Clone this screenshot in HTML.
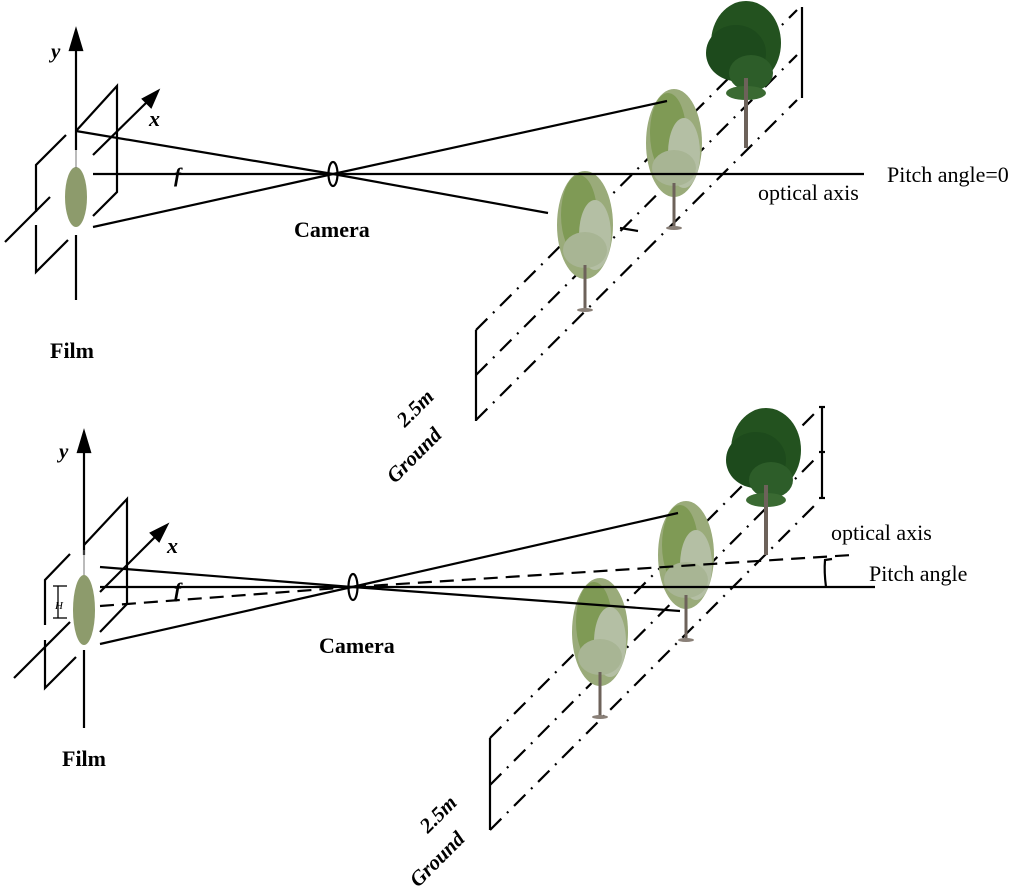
<!DOCTYPE html>
<html><head><meta charset="utf-8"><style>
html,body{margin:0;padding:0;background:#fff}
svg{display:block}
.t{font-family:"Liberation Serif",serif}
</style></head><body>
<svg width="1024" height="888" viewBox="0 0 1024 888" xmlns="http://www.w3.org/2000/svg">
<defs>
<g id="ltree">
 <ellipse cx="0" cy="-40" rx="28" ry="54" fill="#9aab7a"/>
 <ellipse cx="-6" cy="-50" rx="18" ry="40" fill="#7f9a55"/>
 <ellipse cx="10" cy="-30" rx="16" ry="35" fill="#b4bfa4"/>
 <ellipse cx="0" cy="-15" rx="22" ry="18" fill="#a8b594"/>
 <rect x="-1.5" y="0" width="3" height="45" fill="#6d625a"/>
 <ellipse cx="0" cy="45" rx="8" ry="2" fill="#8a8078"/>
</g>
<g id="dtree">
 <ellipse cx="0" cy="-55" rx="35" ry="42" fill="#23521f"/>
 <ellipse cx="-10" cy="-45" rx="30" ry="28" fill="#1d4a1c"/>
 <ellipse cx="5" cy="-25" rx="22" ry="18" fill="#2d5d29"/>
 <ellipse cx="0" cy="-5" rx="20" ry="7" fill="#3a6a32"/>
 <rect x="-2" y="-20" width="4" height="70" fill="#6d625a"/>
</g>
</defs>

<g stroke="#000" stroke-width="2.2" fill="none">
 <g stroke-dasharray="16 8 2 8">
  <line x1="476" y1="330" x2="797" y2="10"/>
  <line x1="476" y1="375" x2="797" y2="55"/>
  <line x1="476" y1="420" x2="797" y2="100"/>
 </g>
 <line x1="476" y1="330" x2="476" y2="421"/>
 <line x1="802" y1="7" x2="802" y2="98"/>
</g>
<use href="#ltree" x="585" y="265"/>
<use href="#ltree" x="674" y="183"/>
<use href="#dtree" x="746" y="98"/>
<g stroke="#000" stroke-width="2.2" fill="none">
 <polyline points="76,131 117,86 117,192 93,216"/>
 <polyline points="36,212 36,165 66,135"/>
 <polyline points="36,225 36,272 68,240"/>
 <line x1="76" y1="45" x2="76" y2="150"/>
 <line x1="76" y1="235" x2="76" y2="300"/>
 <polygon points="76,30 70,50 82,50" fill="#000"/>
 <line x1="5" y1="242" x2="50" y2="197"/>
 <line x1="93" y1="155" x2="148" y2="101"/>
 <polygon points="158,91 143,99 151,107" fill="#000"/>
 <line x1="76" y1="131" x2="333" y2="174"/>
 <line x1="93" y1="227" x2="333" y2="174"/>
 <line x1="333" y1="174" x2="667" y2="101"/>
 <line x1="333" y1="174" x2="548" y2="213"/>
 <line x1="620" y1="228" x2="638" y2="231"/>
 <line x1="93" y1="174" x2="864" y2="174"/>
 <ellipse cx="333" cy="174" rx="4.5" ry="12"/>
</g>
<ellipse cx="76" cy="197" rx="11" ry="30" fill="#8d9b6c"/>
<line x1="76" y1="150" x2="76" y2="168" stroke="#777" stroke-width="1"/>

<g class="t">
 <text x="51" y="58" font-size="21" font-style="italic" font-weight="bold">y</text>
 <text x="149" y="126" font-size="22" font-style="italic" font-weight="bold">x</text>
 <text x="174" y="182" font-size="21" font-style="italic" font-weight="bold">f</text>
 <text x="294" y="237" font-size="22" font-weight="bold">Camera</text>
 <text x="50" y="358" font-size="22" font-weight="bold">Film</text>
 <text x="758" y="200" font-size="22">optical axis</text>
 <text x="887" y="182" font-size="22">Pitch angle=0</text>
 <text x="0" y="0" font-size="21" font-weight="bold" font-style="italic" transform="translate(405,428) rotate(-45)">2.5m</text>
 <text x="0" y="0" font-size="21" font-weight="bold" font-style="italic" transform="translate(395,484) rotate(-45)">Ground</text>
</g>

<g stroke="#000" stroke-width="2.2" fill="none">
 <g stroke-dasharray="16 8 2 8">
  <line x1="490" y1="738" x2="814" y2="414"/>
  <line x1="490" y1="785" x2="814" y2="460"/>
  <line x1="490" y1="830" x2="814" y2="506"/>
 </g>
 <line x1="490" y1="738" x2="490" y2="830"/>
 <line x1="822" y1="407" x2="822" y2="498"/>
 <line x1="819" y1="407" x2="825" y2="407"/>
 <line x1="819" y1="452" x2="825" y2="452"/>
 <line x1="819" y1="498" x2="825" y2="498"/>
</g>
<use href="#ltree" x="600" y="672"/>
<use href="#ltree" x="686" y="595"/>
<use href="#dtree" x="766" y="505"/>
<g stroke="#000" stroke-width="2.2" fill="none">
 <polyline points="84,545 127,499 127,604 100,632"/>
 <polyline points="45,625 45,580 70,554"/>
 <polyline points="45,640 45,688 76,657"/>
 <line x1="84" y1="447" x2="84" y2="555"/>
 <line x1="84" y1="650" x2="84" y2="728"/>
 <polygon points="84,432 78,452 90,452" fill="#000"/>
 <line x1="14" y1="678" x2="70" y2="622"/>
 <line x1="100" y1="592" x2="156" y2="536"/>
 <polygon points="167,525 151,533 159,541" fill="#000"/>
 <line x1="100" y1="567" x2="352" y2="587"/>
 <line x1="100" y1="644" x2="352" y2="587"/>
 <line x1="352" y1="587" x2="678" y2="513"/>
 <line x1="352" y1="587" x2="680" y2="611"/>
 <line x1="100" y1="587" x2="875" y2="587"/>
 <line x1="100" y1="606" x2="352" y2="587" stroke-dasharray="14 8"/>
 <line x1="352" y1="587" x2="852" y2="555" stroke-dasharray="14 8"/>
 <path d="M826,587 Q824,572 825,560 L832,559"/>
 <ellipse cx="353" cy="587" rx="4.5" ry="13"/>
 <g stroke-width="1.3">
  <line x1="58" y1="586" x2="58" y2="618"/>
  <line x1="53" y1="586" x2="67" y2="586"/>
  <line x1="53" y1="618" x2="67" y2="618"/>
 </g>
</g>
<ellipse cx="84" cy="610" rx="11" ry="35" fill="#8d9b6c"/>
<line x1="84" y1="550" x2="84" y2="575" stroke="#777" stroke-width="1"/>
<g class="t">
 <text x="59" y="458" font-size="21" font-style="italic" font-weight="bold">y</text>
 <text x="167" y="553" font-size="22" font-style="italic" font-weight="bold">x</text>
 <text x="174" y="597" font-size="21" font-style="italic" font-weight="bold">f</text>
 <text x="55" y="609" font-size="11" font-style="italic">H</text>
 <text x="319" y="653" font-size="22" font-weight="bold">Camera</text>
 <text x="62" y="766" font-size="22" font-weight="bold">Film</text>
 <text x="831" y="540" font-size="22">optical axis</text>
 <text x="869" y="581" font-size="22">Pitch angle</text>
 <text x="0" y="0" font-size="21" font-weight="bold" font-style="italic" transform="translate(428,834) rotate(-45)">2.5m</text>
 <text x="0" y="0" font-size="21" font-weight="bold" font-style="italic" transform="translate(418,888) rotate(-45)">Ground</text>
</g>
</svg>
</body></html>
